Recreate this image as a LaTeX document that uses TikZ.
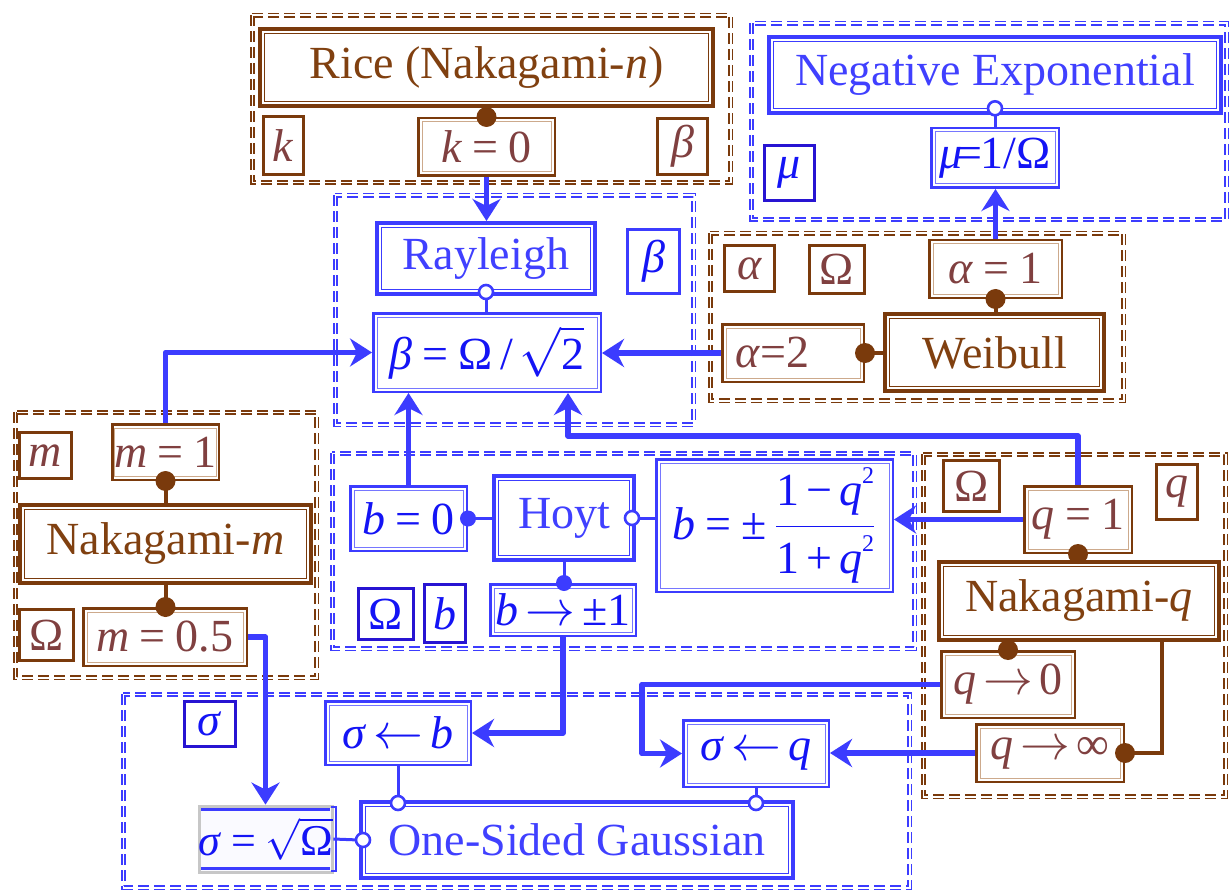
\documentclass[tikz,border=0pt]{standalone}
\usepackage{fontspec}
\setmainfont{Liberation Serif}
\usetikzlibrary{arrows.meta}
\definecolor{brn}{RGB}{122,58,12}
\definecolor{brnt}{RGB}{128,64,16}
\definecolor{brnm}{RGB}{128,64,64}
\definecolor{brnl}{RGB}{205,170,140}
\definecolor{blu}{RGB}{60,60,255}
\definecolor{blut}{RGB}{64,64,255}
\definecolor{blum}{RGB}{20,20,245}
\definecolor{blud}{RGB}{40,20,210}
\newcommand\vi[1]{\textit{#1}}
\newcommand\eqs{\hspace{0.22em}=\hspace{0.22em}}
\newcommand\sps{\hspace{0.15em}}
\newcommand\ra{$\rightarrow$}
\newcommand\la{$\leftarrow$}
\newcommand\sups[1]{\raisebox{11pt}{\fontsize{12}{12}\selectfont #1}}
\newcommand\grp[5]{\draw[grp=#1] (#2+2.4,#3+2.4) rectangle (#4-2.4,#5-2.4);}
\newcommand\tri[7]{%
  \draw[#1o] (#3+2,#4+2) rectangle (#5-2,#6-2);
  \pgfmathsetmacro\bw{(#5-#3-13.4)/2}\pgfmathsetmacro\bh{(#6-#4-13.4)/2}
  \node[#1i, minimum width=\bw pt, minimum height=\bh pt] (#2) at ({(#3+#5)/2},{(#4+#6)/2}) {#7};}
\newcommand\dbl[7]{%
  \draw[#1o] (#3+1.25,#4+1.25) rectangle (#5-1.25,#6-1.25);
  \pgfmathsetmacro\bw{(#5-#3-10)/2}\pgfmathsetmacro\bh{(#6-#4-10)/2}
  \node[#1i, minimum width=\bw pt, minimum height=\bh pt] (#2) at ({(#3+#5)/2},{(#4+#6)/2}) {#7};}
\newcommand\prm[7]{%
  \pgfmathsetmacro\bw{(#5-#3-3)/2}\pgfmathsetmacro\bh{(#6-#4-3)/2}
  \node[#1, minimum width=\bw pt, minimum height=\bh pt] (#2) at ({(#3+#5)/2},{(#4+#6)/2}) {#7};}
\begin{document}
\begin{tikzpicture}[x=0.5pt,y=-0.5pt,
  every node/.style={font=\fontsize{23}{27}\selectfont, inner sep=0pt, align=center},
  grp/.style={draw=#1, double=white, line width=0.75pt, double distance=0.9pt, dash pattern=on 5.5pt off 2.5pt},
  tBo/.style={draw=brn, line width=2pt},
  tBi/.style={draw=brn, line width=0.7pt, text=brnt, outer sep=3.35pt},
  tLo/.style={draw=blu, line width=2pt},
  tLi/.style={draw=blu, line width=0.7pt, text=blut, outer sep=3.35pt},
  dBo/.style={draw=brn, line width=1.25pt},
  dBi/.style={draw=brnl, line width=0.5pt, text=brnm, outer sep=2.5pt},
  dLo/.style={draw=blu, line width=1.25pt},
  dLi/.style={draw=blu!70, line width=0.5pt, text=blum, outer sep=2.5pt},
  pB/.style={draw=brn, line width=1.5pt, text=brnm},
  pL/.style={draw=blu, line width=1.5pt, text=blum},
  pD/.style={draw=blud, line width=1.5pt, text=blum},
  arr/.style={draw=blu, line width=2.8pt, line join=round, -{Stealth[length=11pt,width=14pt,inset=3.5pt]}},
  bcon/.style={draw=brn, line width=2pt},
  lcon/.style={draw=blu, line width=1.5pt},
  bdot/.style={fill=brn},
  ldot/.style={fill=blu},
  ocirc/.style={draw=blu, line width=1.3pt, fill=white},
]
\useasboundingbox (0,0) rectangle (1231,893);
% groups
\grp{brn}{250}{13}{733}{185}
\grp{blu}{749}{21}{1229}{222}
\grp{blu}{333}{193}{696}{427}
\grp{brn}{708}{231}{1126}{403}
\grp{brn}{13}{410}{319}{680}
\grp{blu}{330}{451}{917}{651}
\grp{brn}{921}{452}{1228}{799}
\grp{blu}{121}{692}{912}{890}
% Rice group
\tri{tB}{rice}{258}{27}{715}{108}{Rice (Nakagami-\vi{n})}
\prm{pB}{pk}{262}{115}{305}{176}{\vi{k}}
\dbl{dB}{k0}{417}{117}{556}{177}{\vi{k}\eqs 0}
\prm{pB}{pbeta}{656}{117}{709}{176}{\vi{β}}
% Negative exponential group
\tri{tL}{negexp}{767}{35}{1223}{115}{Negative Exponential}
\prm{pD}{pmu}{763}{144}{816}{202}{\vi{μ}}
\dbl{dL}{mu}{930}{127}{1060}{189}{\vi{μ}\kern-0.12em=\kern-0.05em1/Ω}
% Rayleigh group
\tri{tL}{ray}{375}{221}{597}{296}{Rayleigh}
\prm{pL}{pbeta2}{626}{228}{681}{295}{\vi{β}}
\dbl{dL}{beta}{372}{312}{602}{393}{\vi{β}\eqs Ω\sps/\sps$\sqrt{\hbox{2}}$}
% Weibull group
\prm{pB}{palpha}{723}{244}{776}{293}{\vi{α}}
\prm{pB}{pomega1}{808}{244}{866}{295}{Ω}
\dbl{dB}{a1}{928}{239}{1063}{299}{\vi{α}\eqs 1}
\tri{tB}{weib}{883}{312}{1106}{393}{Weibull}
\dbl{dB}{a2}{721}{323}{865}{383}{\vi{α}=2\hspace{0.9em}}
% Nakagami-m group
\prm{pB}{pm}{18}{431}{73}{480}{\vi{m}}
\dbl{dB}{m1}{111}{423}{220}{481}{\vi{m}\eqs 1}
\tri{tB}{nakm}{18}{503}{313}{585}{Nakagami-\vi{m}}
\prm{pB}{pomega2}{18}{608}{75}{662}{Ω}
\dbl{dB}{m05}{82}{607}{248}{667}{\vi{m}\eqs 0.5}
% Hoyt group
\dbl{dL}{b0}{349}{485}{468}{552}{\vi{b}\eqs 0}
\tri{tL}{hoyt}{492}{474}{636}{562}{Hoyt}
\dbl{dL}{bpm}{655}{458}{894}{593}{\vi{b}\eqs ±\sps$\displaystyle\frac{\hbox{1\sps−\sps\vi{q}\sups{2}}}{\hbox{1\sps+\sps\vi{q}\sups{2}}}$}
\prm{pD}{pomega3}{357}{587}{415}{641}{Ω}
\prm{pD}{pb}{423}{583}{467}{644}{\vi{b}}
\dbl{dL}{bpm1}{489}{583}{637}{637}{\vi{b}\sps\ra\sps±1}
% Nakagami-q group
\prm{pB}{pomega4}{942}{459}{1001}{513}{Ω}
\prm{pB}{pq}{1155}{463}{1199}{521}{\vi{q}}
\dbl{dB}{q1}{1023}{485}{1133}{554}{\vi{q}\eqs 1}
\tri{tB}{nakq}{937}{560}{1221}{642}{Nakagami-\vi{q}}
\dbl{dB}{q0}{940}{650}{1076}{719}{\vi{q}\sps\ra\sps0}
\dbl{dB}{qinf}{975}{723}{1125}{783}{\vi{q}\sps\ra\sps∞}
% One-sided Gaussian group
\prm{pD}{psigma}{183}{700}{237}{748}{\vi{σ}}
\dbl{dL}{sb}{324}{700}{472}{766}{\vi{σ}\sps\la\sps\vi{b}}
\dbl{dL}{sq}{682}{719}{830}{788}{\vi{σ}\sps\la\sps\vi{q}}
\tri{tL}{osg}{359}{800}{795}{880}{One-Sided Gaussian}
\draw[draw=black!22, line width=1.5pt, fill=blue!2] (199,806) rectangle (332,872);
\draw[blu, line width=1.5pt] (201,809) -- (330,809) (201,868) -- (330,868);
\draw[blu, line width=1pt] (331,807) -- (336,807) -- (336,871) -- (331,871);
\node[text=blum, font=\fontsize{22}{26}\selectfont, minimum width=67.5pt, minimum height=34pt] (sO) at (265.5,839) {\vi{σ}\eqs$\sqrt{\hbox{Ω}}$};
% thick blue connectors
\draw[arr] (k0.south) -- (k0.south |- ray.north);
\draw[arr] (a1.north) -- (a1.north |- mu.south);
\draw[arr] (a2.west) -- (a2.west -| beta.east);
\draw[arr] (m1.north) |- (beta.west);
\draw[arr] (b0.north) -- (b0.north |- beta.south);
\coordinate (c6) at (568,436);
\draw[arr] (q1.north) |- (c6) -- (c6 |- beta.south);
\draw[arr] (q1.west) -- (q1.west -| bpm.east);
\draw[arr] (bpm1.south) |- (sb.east);
\draw[arr] (m05.east) -| (sO.north);
\coordinate (c10) at (642,720);
\draw[arr] (q0.west) -| (c10) |- (sq.west);
\draw[arr] (qinf.west) -- (qinf.west -| sq.east);
% brown connectors
\draw[bcon] (rice.south) -- (k0.north);
\fill[bdot] (k0.north) circle (5pt);
\draw[bcon] (a1.south) -- (a1.south |- weib.north);
\fill[bdot] (a1.south) circle (5pt);
\draw[bcon] (a2.east) -- (a2.east -| weib.west);
\fill[bdot] (a2.east) circle (5pt);
\draw[bcon] (m1.south) -- (m1.south |- nakm.north);
\fill[bdot] (m1.south) circle (5pt);
\draw[bcon] (nakm.south) -- (nakm.south |- m05.north);
\fill[bdot] (nakm.south |- m05.north) circle (5pt);
\draw[bcon] (q1.south) -- (q1.south |- nakq.north);
\fill[bdot] (q1.south) circle (5pt);
\draw[bcon] (q0.north) -- (q0.north |- nakq.south);
\fill[bdot] (q0.north) circle (5pt);
\coordinate (cq) at (1162,642);
\draw[bcon] (qinf.east) -| (cq |- nakq.south);
\fill[bdot] (qinf.east) circle (5pt);
% thin blue connectors
\draw[lcon] (negexp.south) -- (negexp.south |- mu.north);
\draw[ocirc] ([yshift=3.35pt]negexp.south) circle (3.5pt);
\draw[lcon] (ray.south) -- (ray.south |- beta.north);
\draw[ocirc] ([yshift=2pt]ray.south) circle (3.5pt);
\draw[lcon] (hoyt.east) -- (hoyt.east -| bpm.west);
\draw[ocirc] ([xshift=-2pt]hoyt.east) circle (3.5pt);
\draw[lcon] (b0.east) -- (b0.east -| hoyt.west);
\fill[ldot] (b0.east) circle (4pt);
\draw[lcon] (hoyt.south) -- (hoyt.south |- bpm1.north);
\fill[ldot] (hoyt.south |- bpm1.north) circle (4pt);
\coordinate (t1) at (sb.south |- osg.north);
\coordinate (t2) at (sq.south |- osg.north);
\draw[lcon] (sb.south) -- (t1);
\draw[lcon] (sq.south) -- (t2);
\draw[ocirc] ([yshift=-1.5pt]t1) circle (3.5pt);
\draw[ocirc] ([yshift=-1.5pt]t2) circle (3.5pt);
\draw[lcon] (sO.east) -- (osg.west);
\draw[ocirc] ([xshift=2pt]osg.west) circle (3.5pt);
\end{tikzpicture}
\end{document}
